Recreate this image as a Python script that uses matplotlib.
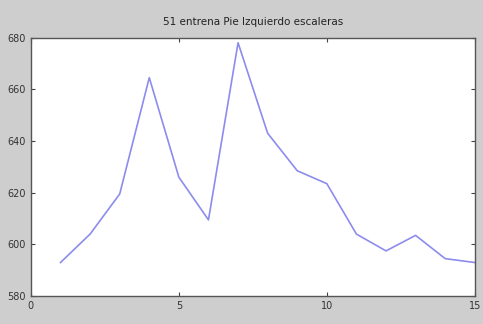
import matplotlib
matplotlib.use("Agg")
import matplotlib.pyplot as plt

# datos
muestra = [1, 2, 3, 4, 5, 6, 7, 8, 9, 10, 11, 12, 13, 14, 15]
valores = [593, 604, 619.5, 664.5, 626, 609.5, 678, 643, 628.5, 623.5, 604, 597.5, 603.5, 594.5, 593]
titulo = "51 entrena Pie Izquierdo escaleras"

fig = plt.figure(figsize=(4.83, 3.24), dpi=100, facecolor="#cecece")
ax = fig.add_axes([0.064, 0.086, 0.919, 0.798])
ax.plot(muestra, valores, color="#8c8cee", linewidth=1.2)

ax.set_xlim(0, 15)
ax.set_ylim(580, 680)
ax.set_xticks([0, 5, 10, 15])
ax.set_yticks([580, 600, 620, 640, 660, 680])
ax.tick_params(direction="in", top=True, right=True, labelsize=7,
               length=3, colors="#444444", labelcolor="#333333")
for s in ax.spines.values():
    s.set_color("#555555")
    s.set_linewidth(1.0)
ax.set_title(titulo, fontsize=7.5, color="#222222", pad=9)

fig.savefig("out.png", dpi=100, facecolor=fig.get_facecolor())
